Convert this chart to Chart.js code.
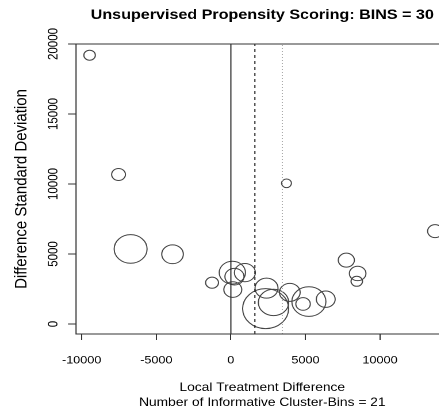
<!DOCTYPE html>
<html>
<head>
<meta charset="utf-8">
<script src="https://cdn.jsdelivr.net/npm/chart.js@4/dist/chart.umd.min.js"></script>
<style>
    html, body { margin: 0; padding: 0; width: 439px; height: 410px; overflow: hidden; background: #fff; }
    #wrap { width: 411px; height: 410px; transform: scaleX(1.15); transform-origin: 0 0; }
</style>
</head>
<body>
<div id="wrap"><canvas id="chartBins" width="411" height="410"></canvas></div>
<script>
// values
const chartTitle = 'Unsupervised Propensity Scoring: BINS = 30';
const xTitle = ['Local Treatment Difference', 'Number of Informative Cluster-Bins = 21'];
const yTitle = 'Difference Standard Deviation';

const binDiff  = [-9470, -7530, -6720, -3910, -1260, 3730, 13690, 7740, 8500, 8440, 6360, 5230, 4840, 3950, 2330, 2860, 2390, 130, 100, 240, 940];
const binSD    = [19200, 10680, 5360, 4980, 2950, 10050, 6630, 4560, 3610, 3050, 1770, 1600, 1430, 2260, 1100, 1540, 2560, 2460, 3670, 3380, 3670];
const binSize  = [5, 6, 14.3, 9.4, 5.6, 4.3, 6.5, 7, 7.2, 5, 8.2, 14.8, 6.3, 9, 20, 13.2, 10, 7.8, 11.4, 8.3, 9.1];

const refLines = [0, 1610, 3450];

const xTicks = [-10000, -5000, 0, 5000, 10000];
const yTicks = [0, 5000, 10000, 15000, 20000];
const xRange = [-10380, 14590];
const yRange = [-714, 20000];

const FONT = '"Liberation Sans", Arial, Helvetica, sans-serif';

// box on the plot region + main title centred over it
const framePlugin = {
    id: 'frameAndTitle',
    afterDraw(chart) {
        const { ctx, chartArea: a } = chart;
        ctx.save();
        ctx.strokeStyle = '#333';
        ctx.lineWidth = 1;
        ctx.strokeRect(a.left, a.top, a.right - a.left, a.bottom - a.top);
        ctx.fillStyle = '#000';
        ctx.font = 'bold 14px ' + FONT;
        ctx.textAlign = 'center';
        ctx.textBaseline = 'middle';
        ctx.fillText(chartTitle, (a.left + a.right) / 2, 15);
        ctx.restore();
    }
};

const lineStyles = [
    { color: '#222', dash: [] },
    { color: '#222', dash: [3, 3] },
    { color: '#aaa', dash: [1, 2] }
];

const lineSets = refLines.map((v, i) => ({
    type: 'line',
    data: [{ x: v, y: yRange[0] }, { x: v, y: yRange[1] }],
    borderColor: lineStyles[i].color,
    borderDash: lineStyles[i].dash,
    borderWidth: 1,
    pointRadius: 0,
    fill: false
}));

const plainNum = v => String(v);

const ctx = document.getElementById('chartBins').getContext('2d');
new Chart(ctx, {
    type: 'bubble',
    data: {
        datasets: [
            ...lineSets,
            {
                data: binDiff.map((x, i) => ({ x: x, y: binSD[i], r: binSize[i] })),
                backgroundColor: 'rgba(0,0,0,0)',
                borderColor: '#444',
                borderWidth: 1,
                hoverRadius: 0
            }
        ]
    },
    options: {
        responsive: false,
        animation: false,
        devicePixelRatio: 2,
        events: [],
        layout: { padding: { top: 44, right: 0, left: 0, bottom: 0 } },
        plugins: { legend: { display: false }, tooltip: { enabled: false } },
        scales: {
            x: {
                type: 'linear',
                min: xRange[0], max: xRange[1],
                afterBuildTicks: s => { s.ticks = xTicks.map(v => ({ value: v })); },
                afterFit: s => { s.height = 76; s.paddingLeft = 0; s.paddingRight = 0; },
                grid: { drawOnChartArea: false, drawTicks: true, tickLength: 6, tickColor: '#333' },
                border: { display: false },
                ticks: { color: '#000', font: { family: FONT, size: 11 }, padding: 14, maxRotation: 0, callback: plainNum },
                title: { display: true, text: xTitle, color: '#000', font: { family: FONT, size: 12, lineHeight: 1.25 }, padding: { top: 0, bottom: 0 } }
            },
            y: {
                type: 'linear',
                min: yRange[0], max: yRange[1],
                afterBuildTicks: s => { s.ticks = yTicks.map(v => ({ value: v })); },
                afterFit: s => { s.width = 66.1; s.paddingTop = 0; s.paddingBottom = 0; },
                grid: { drawOnChartArea: false, drawTicks: true, tickLength: 7, tickColor: '#333' },
                border: { display: false },
                ticks: { color: '#000', font: { family: FONT, size: 11.5 }, padding: -3.5, minRotation: 90, maxRotation: 90, crossAlign: 'center', callback: plainNum },
                title: { display: true, text: yTitle, color: '#000', font: { family: FONT, size: 15 }, padding: { top: 10, bottom: 0 } }
            }
        }
    },
    plugins: [framePlugin]
});
</script>
</body>
</html>
